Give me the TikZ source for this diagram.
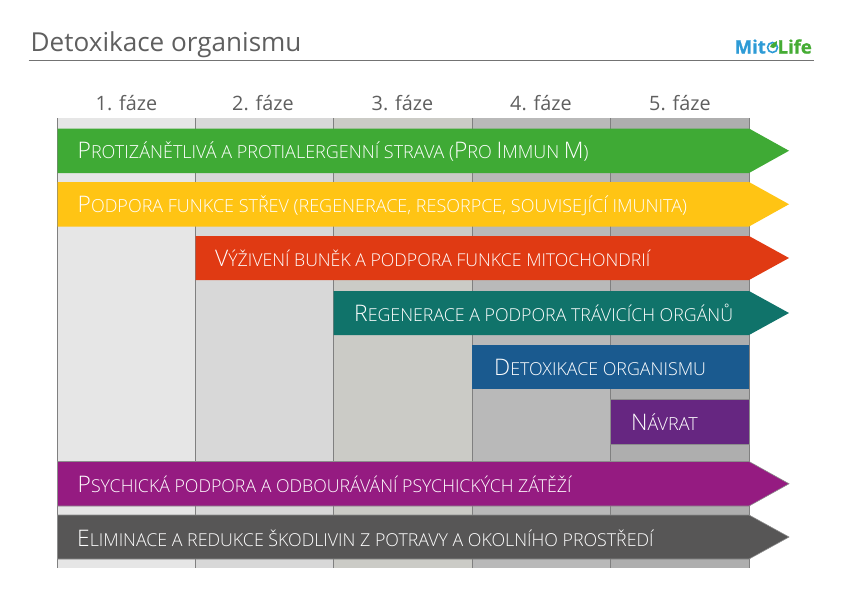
\documentclass[tikz,border=0pt]{standalone}
\usepackage{fontspec}
\setmainfont{Open Sans Light}
\newfontfamily\regfont{Open Sans}
\newfontfamily\logofont{Open Sans}[UprightFont={* Bold},FakeBold=1.2]
\definecolor{cA}{HTML}{E6E6E6}\definecolor{cB}{HTML}{D8D8D8}\definecolor{cC}{HTML}{CBCBC6}
\definecolor{cD}{HTML}{B9B9B9}\definecolor{cE}{HTML}{AEAEAE}
\definecolor{bgreen}{HTML}{3FAA35}\definecolor{byellow}{HTML}{FFC414}\definecolor{bred}{HTML}{E03A13}
\definecolor{bteal}{HTML}{10736A}\definecolor{bblue}{HTML}{1A5A8F}\definecolor{bviolet}{HTML}{662681}
\definecolor{bmag}{HTML}{951B81}\definecolor{bdark}{HTML}{575656}\definecolor{ink}{HTML}{5F5F5F}
\definecolor{logoblue}{HTML}{2E9BD6}\definecolor{logogreen}{HTML}{45AC34}
\newcommand{\C}[1]{{\fontsize{22.8}{23}\selectfont #1}}
\newcommand{\T}[2]{{\fontsize{#1}{20}\selectfont #2}}
\tikzset{
  x=1pt,y=-1pt,
  barlabel/.style={anchor=base west,inner sep=0,text=white,font=\fontsize{18}{20}\selectfont},
  phase/.style={anchor=base,inner sep=0,text=ink,font=\regfont\fontsize{19.8}{23}\selectfont},
  sep/.style={draw=black!50,line width=0.9pt},
  logotext/.style={inner sep=0,font=\logofont\fontsize{18.5}{20}\selectfont},
  plainedge/.style={draw=none},
  greyedge/.style={draw=black!45,line width=.6pt},
}
\newcommand{\arrowbar}[5]{% top, bottom, x-left, colour, edge
  \path[fill=#4,#5] (#3,#1) -- (749,#1) -- (789,{(#1+#2)/2}) -- (749,#2) -- (#3,#2) -- cycle;}
\newcommand{\rectbar}[5]{\path[fill=#4,#5] (#3,#1) rectangle (749,#2);}
\begin{document}
\begin{tikzpicture}
\useasboundingbox (0,0) rectangle (842,595);
% columns
\fill[cA] (57.5,118) rectangle (195.5,568);
\fill[cB] (195.5,118) rectangle (333.5,568);
\fill[cC] (333.5,118) rectangle (472,568);
\fill[cD] (472,118) rectangle (610.5,568);
\fill[cE] (610.5,118) rectangle (749,568);
\foreach \x in {57.5,195.5,333.5,472,610.5,749} \draw[sep] (\x,118) -- (\x,568);
% header
\node[anchor=base west,inner sep=0,text=ink,font=\regfont\fontsize{26.1}{32}\selectfont] (title) at (30.5,51) {Detoxikace organismu};
\draw[black!55,line width=1.4pt] (28.5,60.5) -- (814,60.5);
\node[phase] (f1) at (126.5,110) {1. fáze};
\node[phase] (f2) at (263,110) {2. fáze};
\node[phase] (f3) at (402.5,110) {3. fáze};
\node[phase] (f4) at (541,110) {4. fáze};
\node[phase] (f5) at (680,110) {5. fáze};
% logo
\node[logotext,anchor=base west,text=logoblue] (logoa) at (734.5,53.5) {Mit};
\node[logotext,anchor=base east,text=logogreen] (logob) at (812,53.5) {Life};
\draw[logoblue,line width=1.6pt] (772.5,47.5) circle (5);
\fill[logogreen] (770,47) .. controls (771,43) and (775,43) .. (777,41) .. controls (777,46) and (775,50) .. (770,47) -- cycle;
% bars
\arrowbar{128.5}{173}{57.5}{bgreen}{plainedge}
\arrowbar{182}{226.5}{57.5}{byellow}{plainedge}
\arrowbar{236}{280}{195.5}{bred}{plainedge}
\arrowbar{291}{335}{333.5}{bteal}{plainedge}
\rectbar{345}{389}{472}{bblue}{plainedge}
\rectbar{399}{444}{610.5}{bviolet}{greyedge}
\arrowbar{461.5}{506}{57.5}{bmag}{greyedge}
\arrowbar{515}{559}{57.5}{bdark}{greyedge}
\node[barlabel] (t1) at (77.5,158.5) {\C{P}ROTIZÁNĚTLIVÁ A PROTIALERGENNÍ STRAVA (\C{P}RO \C{I}MMUN \C{M})};
\node[barlabel] (t2) at (77.5,212.5) {\C{P}ODPORA FUNKCE STŘEV (REGENERACE, RESORPCE, SOUVISEJÍCÍ IMUNITA)};
\node[barlabel] (t3) at (215,266.5) {\C{V}\T{17.7}{ÝŽIVENÍ BUNĚK A PODPORA FUNKCE MITOCHONDRIÍ}};
\node[barlabel] (t4) at (354,321) {\C{R}\T{17.8}{EGENERACE A PODPORA TRÁVICÍCH ORGÁNŮ}};
\node[barlabel] (t5) at (494,375) {\C{D}\T{17.85}{ETOXIKACE ORGANISMU}};
\node[barlabel] (t6) at (631,430) {\C{N}ÁVRAT};
\node[barlabel] (t7) at (77.5,492) {\C{P}\T{17.75}{SYCHICKÁ PODPORA A ODBOURÁVÁNÍ PSYCHICKÝCH ZÁTĚŽÍ}};
\node[barlabel] (t8) at (77,546) {\C{E}\T{17.8}{LIMINACE A REDUKCE ŠKODLIVIN Z POTRAVY A OKOLNÍHO PROSTŘEDÍ}};
\end{tikzpicture}
\end{document}
